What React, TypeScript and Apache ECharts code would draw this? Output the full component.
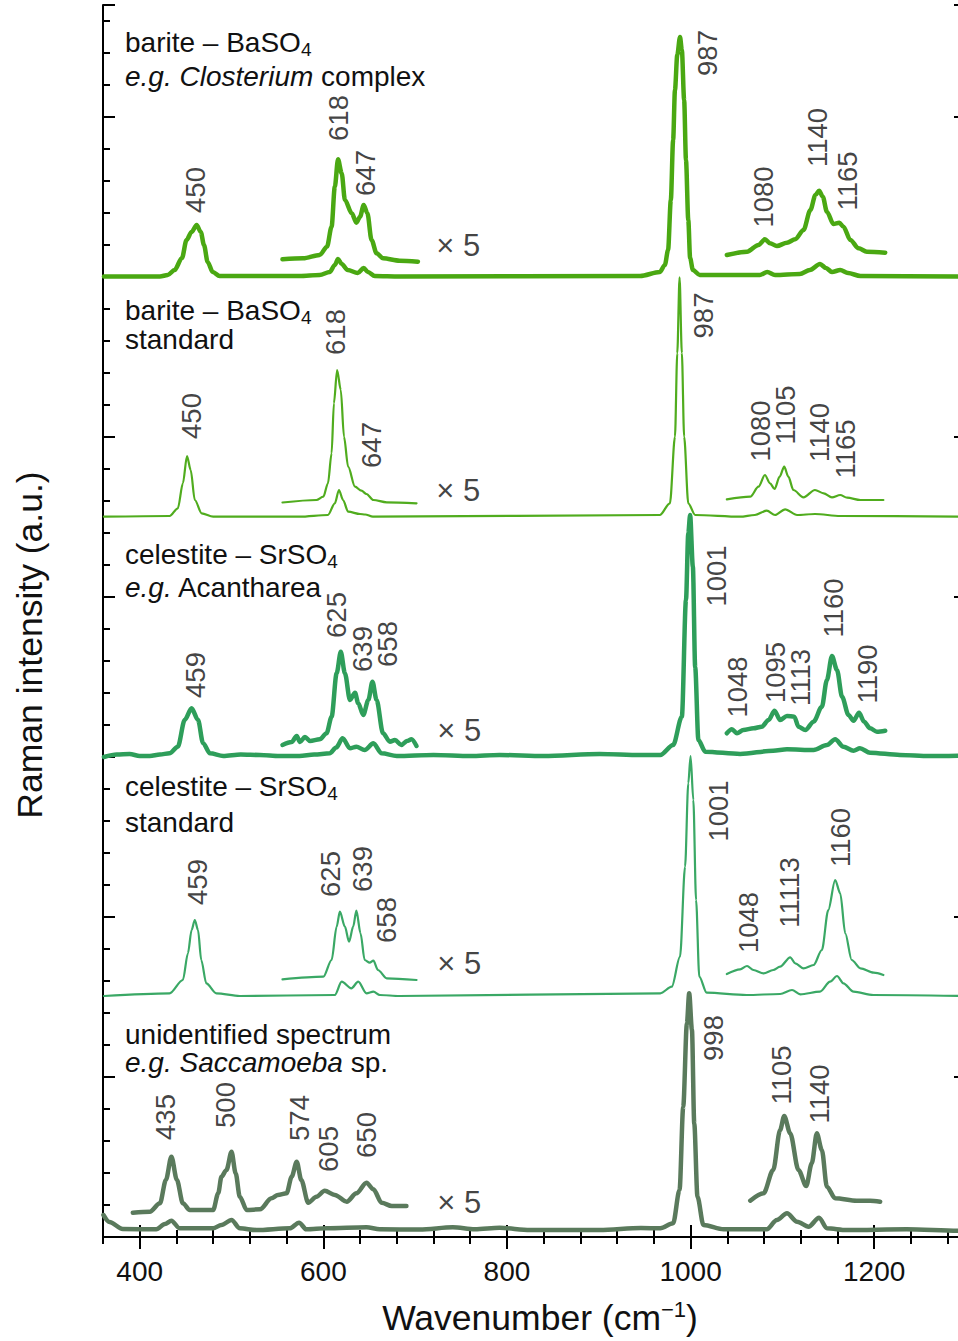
import React, { useEffect, useRef } from "react";
import * as echarts from "echarts";

const FONT = "'Liberation Sans', Arial, Helvetica, sans-serif";

// ---------- axes ----------
const X_MIN = 360;
const X_MAX = 1300;
const X_MINOR_STEP = 40;
const X_MAJOR_TICKS = [400, 600, 800, 1000, 1200];
const Y_MIN = 0;
const Y_MAX = 1232;
const Y_MINOR_STEP = 32;
const Y_MAJOR_STEP = 160;

// ---------- spectra meta ----------
const spectrumNames = [
  "barite – BaSO4 (Closterium complex)",
  "barite – BaSO4 standard",
  "celestite – SrSO4 (Acantharea)",
  "celestite – SrSO4 standard",
  "unidentified spectrum (Saccamoeba sp.)",
];
const spectrumColors = ["#4aa812", "#50ac1e", "#2e9e5a", "#3aa865", "#5a7a5c"];
const spectrumWidths = [4.5, 2.2, 4.5, 2.2, 4.5];
// vertical stacking offsets (a.u.) of each spectrum and of its ×5 enlargement
const baselineOffsets = [960.5, 720.3, 481.5, 241, 7];
const zoomOffsets = [977, 734.5, 495, 257.5, 29];

// ---------- spectrum 1: barite, Closterium ----------
const s1Main: number[][] = [
  [361, 0], [422, 0], [430.5, 1.5], [438, 6.5], [446, 18.5], [451, 36.5], [456.5, 44.5], [462, 51.5],
  [466.5, 44.5], [470, 31.5], [474, 14.5], [479.5, 4.5], [487, 0.5], [574, 0.5], [596, 1.5], [607, 4.5],
  [612.5, 11.5], [616, 17.5], [620, 12.5], [626.5, 6.5], [637.5, 3.5], [644, 8.5], [648.5, 4.5], [656, 0.5],
  [683, 0], [945, 0.5], [966.5, 4.5], [972, 11.5], [975.5, 26.5], [978.5, 76.5], [981, 136.5], [983, 186.5],
  [985.5, 221.5], [988.5, 239.5], [990.5, 226.5], [993, 176.5], [995, 116.5], [997.5, 56.5], [999.5, 18.5],
  [1002.5, 6.5], [1010, 1.5], [1075.5, 1.5], [1083.5, 4.5], [1092, 1.5], [1119, 2.5], [1130, 6.5],
  [1141, 12.5], [1147.5, 8.5], [1154, 4.5], [1163, 6.5], [1171.5, 3.5], [1185, 0.5], [1300, 0],
];
const s1ZoomLow: number[][] = [
  [555.5, 0.7], [578, 1.7], [596, 5], [604, 13.3], [609, 33.3], [612.5, 73.3], [616, 100.7], [620, 86.7],
  [623.5, 60], [631, 46.7], [636, 37.3], [640, 43.3], [644, 55], [648, 46.7], [652.5, 20], [658, 6.7],
  [665, 1.7], [683, -0.7], [703, -1.7],
];
const s1ZoomHigh: number[][] = [
  [1039.5, 5], [1061.5, 8.3], [1074, 15], [1081, 20.7], [1086.5, 16.7], [1094, 14], [1105, 17.3],
  [1114, 20.7], [1123, 30], [1130.5, 50], [1136, 65], [1140, 69.3], [1144, 63.3], [1148.5, 48.3],
  [1155.5, 36], [1162, 37.3], [1166.5, 33.3], [1174, 20], [1183, 11.7], [1192, 8.3], [1212, 7.3],
];

// ---------- spectrum 2: barite standard ----------
const s2Main: number[][] = [
  [361, 0], [432.5, 0.7], [441.5, 8.4], [447, 33.4], [451.5, 60.7], [455.5, 46.7], [460, 16.7],
  [467.5, 3.4], [480, 0], [574, 0], [605, 1.7], [612.5, 13.4], [617, 26.7], [621.5, 16.7], [627, 5],
  [640, 2.7], [645.5, 2.2], [654, 0], [966.5, 1.7], [977.5, 13.4], [983, 80], [985.5, 163.4],
  [988, 239.4], [990.5, 163.7], [993, 80], [997.5, 13.4], [1005, 1.7], [1054, 0], [1070, 1.7],
  [1083, 6], [1092, 1.7], [1103, 7.4], [1116, 1.7], [1135.5, 2.7], [1163, 0.7], [1300, 0],
];
const s2ZoomLow: number[][] = [
  [555.5, 0], [592.5, 2.5], [600, 5.8], [605, 19.2], [609, 49.2], [611.5, 99.2], [615, 132.5],
  [619, 112.5], [622.5, 65.8], [627, 35.8], [634.5, 15.8], [641.5, 11.8], [647, 8.5], [654.5, 2.5],
  [669, 0.2], [701.5, -0.8],
];
const s2ZoomHigh: number[][] = [
  [1039.5, 3.2], [1065, 5.8], [1074, 15.8], [1081, 27.5], [1086.5, 19.2], [1091.5, 13.5], [1097, 25.8],
  [1102, 35.8], [1106.5, 25.8], [1112, 12.5], [1123, 5.2], [1135.5, 12.5], [1145, 9.2], [1154, 5.2],
  [1163, 7.5], [1170.5, 4.8], [1185, 2.5], [1210, 2.5],
];

// ---------- spectrum 3: celestite, Acantharea ----------
const s3Main: number[][] = [
  [361, -1.5], [375, 1], [389, 1.5], [400, -0.5], [411, -0.5], [422, 1], [432.5, 2.2], [441.5, 8.8],
  [449, 35.5], [456.5, 47.2], [463.5, 35.5], [469, 12.2], [476.5, 2.2], [491, -0.5], [510, 1], [531, 0.5],
  [552, -0.5], [574, -0.5], [590, 1], [607, 2.2], [614, 8], [621, 17.2], [629, 7.2], [636, 8.8],
  [645, 5.5], [654.5, 12.2], [663.5, 2.2], [680, -0.5], [720, 0.5], [760, -0.5], [792, 0.5], [840, -0.5],
  [901, 1.5], [945, 0.5], [967, 0.5], [981, 10.5], [990.5, 38.8], [995, 155.5], [997.5, 222.2],
  [999.5, 240.5], [1002.5, 188.8], [1005, 88.8], [1008.5, 15.5], [1016, 3.8], [1054, 1.5], [1090, 4.8],
  [1105, 6.2], [1134, 5.5], [1148.5, 10.5], [1157.5, 16.2], [1166.5, 8.8], [1177.5, 4.8], [1184.5, 7.2],
  [1195.5, 2.8], [1228, 0.5], [1260, -0.5], [1300, 0],
];
const s3ZoomLow: number[][] = [
  [555.5, -3], [565.5, 0], [571, 6], [574.5, 0], [580, 5], [585.5, 1], [596, 2.7], [603.5, 8.7],
  [609, 25.3], [614.5, 68.7], [619, 90.3], [623.5, 68.7], [629, 42], [634.5, 49.3], [638, 38.7],
  [643.5, 27], [649, 42], [653.5, 60.3], [658, 42], [665, 8.7], [672.5, 0.3], [678, 2], [685, -3],
  [691, 1], [696, 2.7], [701.5, -4],
];
const s3ZoomHigh: number[][] = [
  [1039.5, 8.7], [1045, 12.7], [1050.5, 8.7], [1057.5, 12], [1068.5, 13.7], [1077.5, 15.3], [1085, 22],
  [1091.5, 31.3], [1097.5, 22], [1105, 26], [1113, 25.3], [1117.5, 15.3], [1125, 12], [1134, 20.3],
  [1143, 35.3], [1148.5, 62], [1154, 86], [1159.5, 72], [1165, 45.3], [1172, 27], [1177.5, 21.3],
  [1183.5, 29.3], [1189, 20.3], [1195.5, 13.7], [1203, 10.3], [1212, 11.3],
];

// ---------- spectrum 4: celestite standard ----------
const s4Main: number[][] = [
  [361, 0], [432.5, 2.7], [447, 16], [452.5, 42.7], [456.5, 66], [460, 76], [463.5, 66], [467, 36],
  [472.5, 12.7], [483.5, 2.7], [509, 0], [612.5, 1], [620, 14.3], [630.5, 7.7], [638, 14.3], [647, 2.7],
  [654.5, 4.3], [661.5, 1], [683, 0], [967, 2.7], [979.5, 9.3], [988.5, 39.3], [994, 129.3],
  [997.5, 212.7], [1000, 240], [1003, 196], [1006, 96], [1009.5, 19.3], [1017.5, 3.3], [1061, 1],
  [1097.5, 2], [1110.5, 6], [1119.5, 1.7], [1141, 4.3], [1152, 14.3], [1159.5, 20], [1166.5, 12.7],
  [1177.5, 4.3], [1199, 1], [1300, 0],
];
const s4ZoomLow: number[][] = [
  [555.5, 0.2], [600, 2.8], [609, 19.5], [614.5, 52.8], [618, 67.8], [623.5, 52.8], [628, 37.8],
  [632.5, 52.8], [636, 68.8], [640.5, 46.2], [645, 19.5], [650.5, 16.8], [654.5, 18.8], [659.5, 9.5],
  [669, 1.2], [701.5, -0.5],
];
const s4ZoomHigh: number[][] = [
  [1039.5, 5.5], [1054, 10.2], [1061.5, 13.5], [1068.5, 9.5], [1079.5, 6.2], [1090, 9.5], [1097.5, 12.8],
  [1108.5, 22.2], [1114, 16.2], [1123, 11.2], [1134, 14.5], [1143, 29.5], [1150, 69.5], [1157.5, 99.5],
  [1163, 86.2], [1168.5, 46.2], [1175.5, 19.5], [1185, 11.2], [1199.5, 6.8], [1210, 4.5],
];

// ---------- spectrum 5: unidentified, Saccamoeba ----------
const s5Main: number[][] = [
  [360.5, 15], [367, 8], [381.5, 1], [418, 0.7], [427.5, 6], [434.5, 9.3], [443.5, 1.7], [480, 1.7],
  [489, 5], [500, 10], [509, 1.7], [527, 0], [563.5, 1.7], [573.5, 7.3], [581.5, 0.7], [603.5, 1.7],
  [647, 2.7], [661.5, 0.7], [705, 0.5], [741, 2.7], [765, 0.7], [792, 2.2], [825, 0], [901, 0], [946, 2],
  [967, 1.7], [981, 6.7], [988, 40], [992, 123.3], [996, 206.7], [998.5, 236.7], [1001.5, 200],
  [1004, 106.7], [1007.5, 33.3], [1014, 5], [1036, 0.7], [1083, 0.7], [1094, 10], [1105, 16.7],
  [1116, 8.3], [1128.5, 3.3], [1140, 12.3], [1148.5, 1.7], [1170, 0], [1235.5, 0.7], [1291.5, -0.7],
  [1300, 0],
];
const s5ZoomLow: number[][] = [
  [392.5, -4.7], [411, -3.7], [422, 4.7], [428.5, 28], [434.5, 51.3], [440.5, 28], [447, 4.7],
  [454.5, -2], [480, -2], [485.5, 14.7], [489, 31.3], [494.5, 38], [500, 56.3], [504.5, 34.7], [509, 11.3],
  [516.5, -2], [531, -1.3], [543.5, 9.7], [550.5, 13], [560, 14.7], [565.5, 31.3], [571, 46.3], [576, 28],
  [583.5, 5.3], [592.5, 11.3], [601.5, 17.3], [612.5, 13], [625.5, 6.3], [636, 14.7], [647, 25.3],
  [654.5, 18.7], [663.5, 5.3], [674.5, 2], [690.5, 2],
];
const s5ZoomHigh: number[][] = [
  [1065, 7.3], [1079.5, 14.7], [1090, 38], [1097.5, 78], [1102, 92], [1108.5, 74.7], [1117.5, 38],
  [1126, 22], [1132, 44.7], [1137.5, 74.7], [1143, 58], [1148.5, 21.3], [1157.5, 9.7], [1181, 7.3],
  [1195.5, 7.3], [1206.5, 6.3],
];

// ---------- peak annotations: [label, wavenumber, a.u.] ----------
const peakLabels1: [string, number, number][] = [
  ["450", 461, 1047], ["618", 616, 1119], ["647", 646, 1064], ["987", 1018.5, 1184],
  ["1080", 1079, 1040], ["1140", 1138.5, 1099.5], ["1165", 1171, 1056],
];
const peakLabels2: [string, number, number][] = [
  ["450", 456, 821], ["618", 613.5, 905], ["647", 652.5, 792], ["987", 1014, 921.5],
  ["1080", 1076, 806], ["1105", 1103.5, 822], ["1140", 1140, 804.5], ["1165", 1168.5, 788],
];
const peakLabels3: [string, number, number][] = [
  ["459", 460.5, 562], ["625", 614.5, 622], ["639", 643, 588], ["658", 670, 593], ["1001", 1028, 661],
  ["1048", 1051.5, 550], ["1095", 1092.5, 564.5], ["1113", 1120, 559.5], ["1160", 1155.5, 629],
  ["1190", 1193, 563],
];
const peakLabels4: [string, number, number][] = [
  ["459", 462.5, 355], ["625", 607.5, 363], ["639", 643, 368], ["658", 668.5, 317], ["1001", 1030, 426],
  ["1048", 1063, 314.5], ["11113", 1108, 344.5], ["1160", 1163, 399.5],
];
const peakLabels5: [string, number, number][] = [
  ["435", 428.5, 120], ["500", 493.5, 132], ["574", 573.5, 119], ["605", 605.5, 88], ["650", 646.5, 102],
  ["998", 1025, 199], ["1105", 1098.5, 162], ["1140", 1140, 143],
];
// "× 5" marks of the enlarged traces
const factorLabels: [string, number, number][] = [
  ["× 5", 747, 992], ["× 5", 747, 747], ["× 5", 748, 507], ["× 5", 748, 274], ["× 5", 748, 35],
];

// ---------- sample titles (rich text): [text, baseline in px] ----------
const titleLines: [string, number][][] = [
  [["{n|barite – BaSO}{s|4}", 52], ["{i|e.g. Closterium}{n| complex}", 86]],
  [["{n|barite – BaSO}{s|4}", 320], ["{n|standard}", 349]],
  [["{n|celestite – SrSO}{s|4}", 564], ["{i|e.g.}{n| Acantharea}", 597]],
  [["{n|celestite – SrSO}{s|4}", 796], ["{n|standard}", 832]],
  [["{n|unidentified spectrum}", 1044], ["{i|e.g. Saccamoeba}{n| sp.}", 1072]],
];

const mainTraces = [s1Main, s2Main, s3Main, s4Main, s5Main];
const zoomTraces = [
  [s1ZoomLow, s1ZoomHigh],
  [s2ZoomLow, s2ZoomHigh],
  [s3ZoomLow, s3ZoomHigh],
  [s4ZoomLow, s4ZoomHigh],
  [s5ZoomLow, s5ZoomHigh],
];
const peakLabelSets = [peakLabels1, peakLabels2, peakLabels3, peakLabels4, peakLabels5];

const TITLE_SIZE = 28;

function buildOption() {
  const series: any[] = [];
  mainTraces.forEach((trace, i) => {
    const lineStyle = { color: spectrumColors[i], width: spectrumWidths[i], join: "round", cap: "round" };
    series.push({
      type: "line",
      name: spectrumNames[i],
      data: trace.map(([x, v]) => [x, v + baselineOffsets[i]]),
      symbol: "none",
      smooth: 0.3,
      smoothMonotone: "x",
      lineStyle,
      silent: true,
      z: 3,
    });
    zoomTraces[i].forEach((seg, k) => {
      series.push({
        type: "line",
        name: spectrumNames[i] + " ×5 " + (k + 1),
        data: seg.map(([x, v]) => [x, v + zoomOffsets[i]]),
        symbol: "none",
        smooth: 0.3,
        smoothMonotone: "x",
        lineStyle,
        silent: true,
        z: 3,
      });
    });
    series.push({
      type: "scatter",
      data: peakLabelSets[i].map(([t, x, y]) => ({ name: t, value: [x, y] })),
      symbolSize: 1,
      itemStyle: { color: "rgba(0,0,0,0)" },
      silent: true,
      z: 4,
      label: {
        show: true,
        position: "inside",
        rotate: 90,
        formatter: "{b}",
        fontFamily: FONT,
        fontSize: 27.5,
        color: "#111",
      },
    });
  });
  series.push({
    type: "scatter",
    data: factorLabels.map(([t, x, y]) => ({ name: t, value: [x, y] })),
    symbolSize: 1,
    itemStyle: { color: "rgba(0,0,0,0)" },
    silent: true,
    z: 4,
    label: {
      show: true,
      position: "inside",
      formatter: "{b}",
      fontFamily: FONT,
      fontSize: 31,
      color: "#111",
    },
  });

  const axisLine = { show: true, lineStyle: { color: "#000", width: 2 } };
  const minorTick = { show: true, inside: true, length: 7, lineStyle: { color: "#000", width: 2 } };
  const majorTick = { show: true, inside: true, length: 12, lineStyle: { color: "#000", width: 2 } };

  const xBase = { type: "value", min: X_MIN, max: X_MAX, splitLine: { show: false } };
  const yBase = { type: "value", min: Y_MIN, max: Y_MAX, splitLine: { show: false } };

  const rich = {
    n: { fontFamily: FONT, fontSize: TITLE_SIZE, fill: "#111", lineHeight: 24 },
    i: { fontFamily: FONT, fontSize: TITLE_SIZE, fill: "#111", fontStyle: "italic", lineHeight: 24 },
    s: { fontFamily: FONT, fontSize: 19, fill: "#111", lineHeight: 24, verticalAlign: "top", padding: [10, 0, 0, 0] },
  };

  const graphic: any[] = [];
  titleLines.forEach((lines) => {
    lines.forEach(([text, baseline]) => {
      graphic.push({
        type: "text",
        x: 125,
        y: baseline - 0.3465 * TITLE_SIZE,
        silent: true,
        style: {
          text,
          rich,
          fontFamily: FONT,
          fontSize: TITLE_SIZE,
          fill: "#111",
          align: "left",
          verticalAlign: "middle",
        },
      });
    });
  });
  graphic.push({
    type: "text",
    x: 30,
    y: 645,
    rotation: Math.PI / 2,
    silent: true,
    style: {
      text: "Raman intensity (a.u.)",
      fontFamily: FONT,
      fontSize: 35.5,
      fill: "#111",
      align: "center",
      verticalAlign: "middle",
    },
  });

  return {
    animation: false,
    backgroundColor: "#fff",
    grid: { left: 103, top: 5, right: 34, bottom: 104, containLabel: false },
    xAxis: [
      {
        ...xBase,
        position: "bottom",
        interval: X_MINOR_STEP,
        axisLine,
        axisTick: minorTick,
        axisLabel: {
          show: true,
          margin: 20,
          fontFamily: FONT,
          fontSize: 28,
          color: "#111",
          formatter: (v: number) => (v % 200 === 0 ? String(v) : ""),
        },
        name: "{a|Wavenumber (cm}{sup|−1}{a|)}",
        nameLocation: "middle",
        nameGap: 61,
        nameTextStyle: {
          padding: [0, 0, 0, 11],
          rich: {
            a: { fontFamily: FONT, fontSize: 35.5, color: "#111", lineHeight: 40 },
            sup: { fontFamily: FONT, fontSize: 22, color: "#111", lineHeight: 20, verticalAlign: "top" },
          },
        },
      },
      {
        ...xBase,
        position: "bottom",
        axisLine: { show: false },
        axisTick: { ...majorTick, customValues: X_MAJOR_TICKS },
        axisLabel: { show: false },
      },
      {
        ...xBase,
        position: "top",
        interval: X_MINOR_STEP,
        axisLine,
        axisTick: minorTick,
        axisLabel: { show: false },
      },
      {
        ...xBase,
        position: "top",
        axisLine: { show: false },
        axisTick: { ...majorTick, customValues: X_MAJOR_TICKS },
        axisLabel: { show: false },
      },
    ],
    yAxis: [
      { ...yBase, position: "left", interval: Y_MINOR_STEP, axisLine, axisTick: minorTick, axisLabel: { show: false } },
      { ...yBase, position: "left", interval: Y_MAJOR_STEP, axisLine: { show: false }, axisTick: majorTick, axisLabel: { show: false } },
      { ...yBase, position: "right", interval: Y_MINOR_STEP, axisLine, axisTick: minorTick, axisLabel: { show: false } },
      { ...yBase, position: "right", interval: Y_MAJOR_STEP, axisLine: { show: false }, axisTick: majorTick, axisLabel: { show: false } },
    ],
    series,
    graphic,
  };
}

export default function App() {
  const ref = useRef<HTMLDivElement>(null);
  useEffect(() => {
    if (!ref.current) return;
    const chart = echarts.init(ref.current, undefined, { renderer: "svg" });
    chart.setOption(buildOption() as any);
    return () => chart.dispose();
  }, []);
  return (
    <div
      style={{
        position: "absolute",
        left: 0,
        top: 0,
        width: 958,
        height: 1341,
        overflow: "hidden",
        background: "#fff",
      }}
    >
      <div ref={ref} style={{ width: 1000, height: 1341 }} />
    </div>
  );
}
